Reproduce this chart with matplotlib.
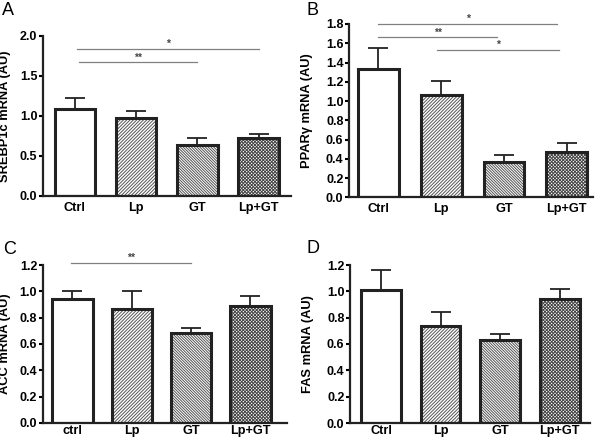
import matplotlib
matplotlib.use("Agg")
import matplotlib.pyplot as plt

plt.rcParams['font.family'] = ['Liberation Sans', 'DejaVu Sans']
plt.rcParams['hatch.linewidth'] = 0.7

# ---- data ----
labels_A = ["Ctrl", "Lp", "GT", "Lp+GT"]
labels_B = ["Ctrl", "Lp", "GT", "Lp+GT"]
labels_C = ["ctrl", "Lp", "GT", "Lp+GT"]
labels_D = ["Ctrl", "Lp", "GT", "Lp+GT"]

srebp_mean = [1.09, 0.98, 0.64, 0.73]
srebp_err = [0.13, 0.08, 0.09, 0.05]
ppar_mean = [1.33, 1.06, 0.37, 0.47]
ppar_err = [0.22, 0.15, 0.065, 0.09]
acc_mean = [0.945, 0.863, 0.683, 0.886]
acc_err = [0.06, 0.14, 0.04, 0.08]
fas_mean = [1.01, 0.74, 0.63, 0.945]
fas_err = [0.153, 0.10, 0.047, 0.074]

ylabels = ["SREBP1c mRNA (AU)", "PPARγ mRNA (AU)", "ACC mRNA (AU)", "FAS mRNA (AU)"]
panel_letters = ["A", "B", "C", "D"]

# significance: (x_start, x_end, y, text)
sig_A = [(0.03, 3.0, 1.84, "*"), (0.06, 1.99, 1.67, "**")]
sig_B = [(0.0, 2.85, 1.80, "*"), (0.0, 1.89, 1.66, "**"), (0.94, 2.88, 1.53, "*")]
sig_C = [(-0.02, 1.99, 1.213, "**")]
sig_D = []

hatches = ["", "//////////", "\\" * 12, "x" * 10]
hatch_colors = ["#555555", "#555555", "#555555", "#444444"]

fig = plt.figure(figsize=(6.0, 4.42), dpi=100)
W, H = 600.0, 442.0

# axes boxes in pixels: left, right, top, bottom
boxes = [(43, 291, 36, 196), (349, 593, 24, 197.3), (42.7, 286.7, 265, 422.8), (350, 590, 265, 423)]
xlims = [(-0.52, 3.53), (-0.47, 3.42), (-0.50, 3.61), (-0.52, 3.51)]
widths = [0.66, 0.65, 0.68, 0.67]
ylims = [2.0, 1.8, 1.2, 1.2]
yticks = [[0.0, 0.5, 1.0, 1.5, 2.0],
          [0.0, 0.2, 0.4, 0.6, 0.8, 1.0, 1.2, 1.4, 1.6, 1.8],
          [0.0, 0.2, 0.4, 0.6, 0.8, 1.0, 1.2],
          [0.0, 0.2, 0.4, 0.6, 0.8, 1.0, 1.2]]
means = [srebp_mean, ppar_mean, acc_mean, fas_mean]
errs = [srebp_err, ppar_err, acc_err, fas_err]
labels = [labels_A, labels_B, labels_C, labels_D]
sigs = [sig_A, sig_B, sig_C, sig_D]
letter_pos = [(2, 15), (306, 15), (3, 254), (306, 253)]
ylabel_x = [11, 313, 11, 314]
xpads = [4.3, 4.3, 1.8, 1.5]

for i in range(4):
    l, r, t, b = boxes[i]
    ax = fig.add_axes([l / W, 1 - b / H, (r - l) / W, (b - t) / H])
    x = list(range(4))
    ax.errorbar(x, means[i], yerr=[[0] * 4, errs[i]], fmt='none', ecolor='#222222',
                elinewidth=1.3, capsize=7, capthick=1.3, zorder=1)
    for j in range(4):
        ax.bar(x[j], means[i][j], width=widths[i], color='white', edgecolor=hatch_colors[j],
               linewidth=0, hatch=hatches[j], zorder=2)
        ax.bar(x[j], means[i][j], width=widths[i], fill=False, edgecolor='#222222',
               linewidth=2.2, zorder=3)
    ax.set_xlim(*xlims[i])
    ax.set_ylim(0, ylims[i])
    ax.set_yticks(yticks[i])
    ax.set_yticklabels(["{:.1f}".format(v) for v in yticks[i]], fontsize=9, fontweight='bold')
    ax.set_xticks(x)
    ax.set_xticklabels(labels[i], fontsize=9.2, fontweight='bold')
    ax.tick_params(axis='x', length=0, pad=xpads[i])
    ax.tick_params(axis='y', length=3, width=1.5, pad=1.0, direction='out')
    for s in ['top', 'right']:
        ax.spines[s].set_visible(False)
    for s in ['left', 'bottom']:
        ax.spines[s].set_linewidth(1.6)
        ax.spines[s].set_color('#222222')
    ax.set_ylabel(ylabels[i], fontsize=9.3, fontweight='bold')
    ax.yaxis.set_label_coords((ylabel_x[i] - l) / (r - l), 0.5)
    for (x0, x1, yv, txt) in sigs[i]:
        ax.plot([x0, x1], [yv, yv], color='#808080', linewidth=0.9, clip_on=False)
        ax.text((x0 + x1) / 2, yv, txt, ha='center', va='bottom', fontsize=7.5,
                color='#444444', fontweight='bold')
    fig.text(letter_pos[i][0] / W, 1 - letter_pos[i][1] / H, panel_letters[i],
             fontsize=13, ha='left', va='baseline')

fig.savefig("out.png", dpi=100)
